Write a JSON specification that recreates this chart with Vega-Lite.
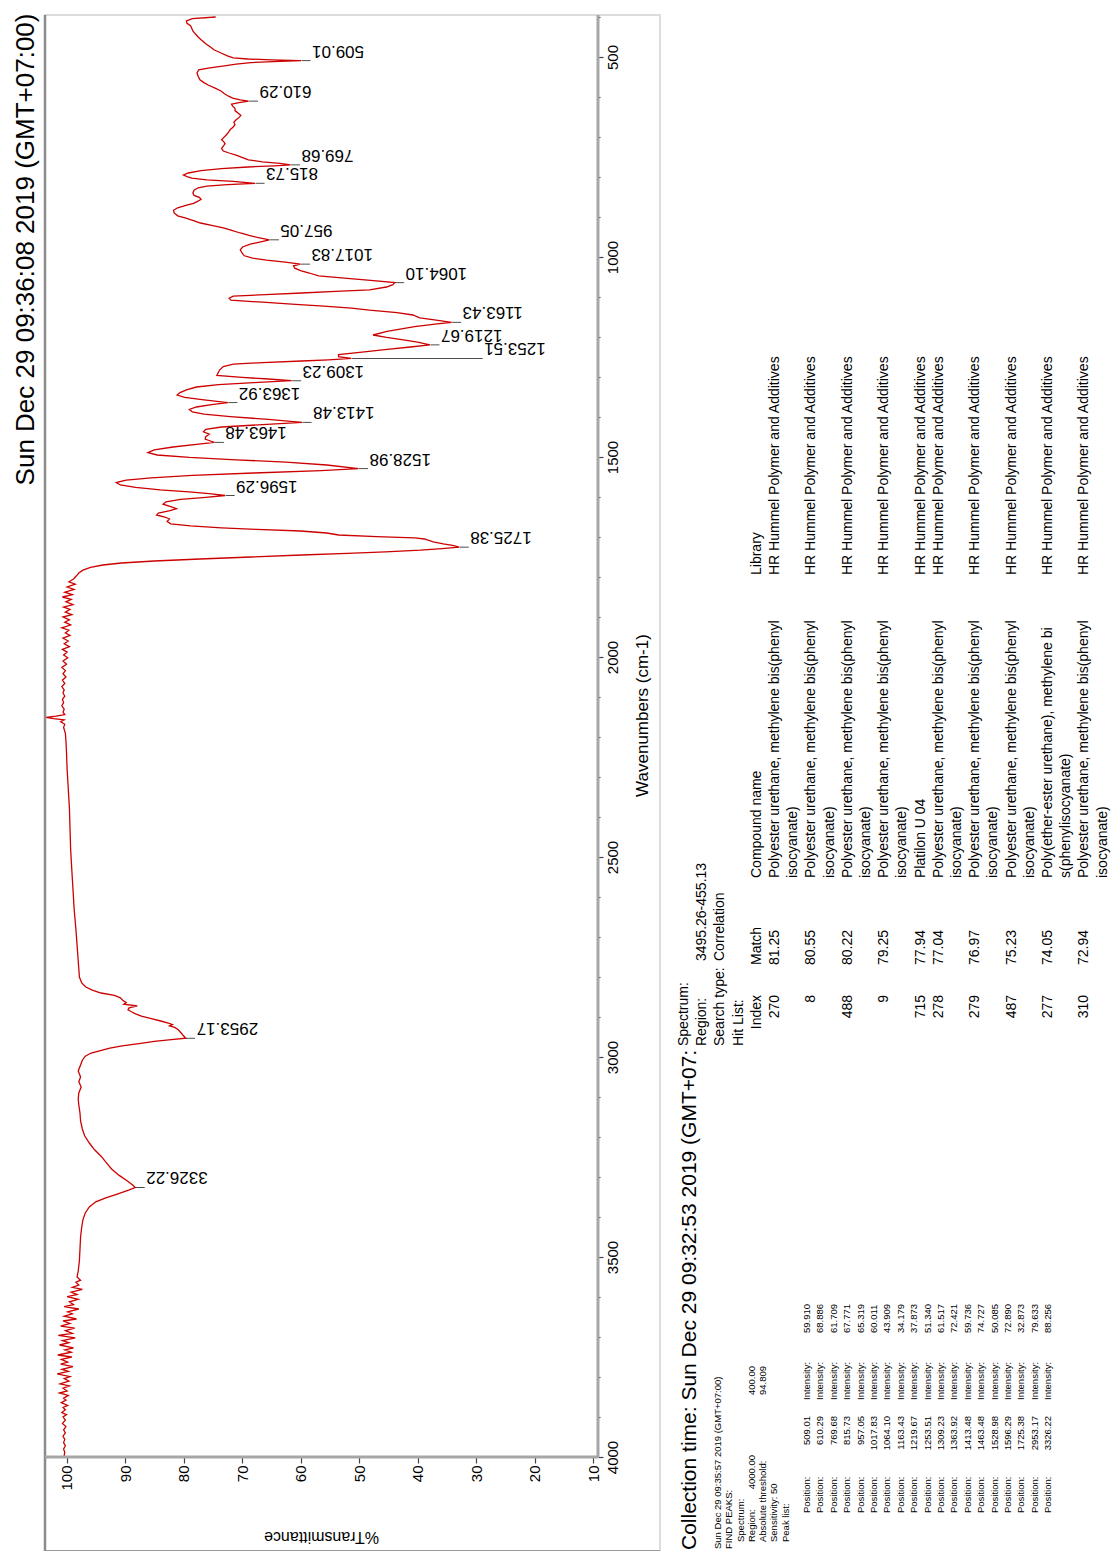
{
"$schema": "https://vega.github.io/schema/vega-lite/v6.json",
"padding": {"left": 12, "top": 12, "right": 0, "bottom": 0},
"background": "white",
"spacing": 0,
"config": {"view": {"stroke": null}, "font": "Liberation Sans", "axis": {"labelOverlap": false}, "axisX": {"labelOverlap": false}},
"datasets": {
"spectrum": [
{"wn":400,"T":74.5},{"wn":404,"T":78.5},{"wn":410,"T":79.5},{"wn":416,"T":79.4},{"wn":422,"T":78.8},{"wn":428,"T":78.6},{"wn":435,"T":78.4},{"wn":442,"T":78.0},{"wn":450,"T":77.5},{"wn":458,"T":76.9},{"wn":467,"T":76.2},{"wn":475,"T":75.4},{"wn":482,"T":74.8},{"wn":490,"T":73.6},{"wn":497,"T":72.5},{"wn":502,"T":71.5},{"wn":505,"T":69},{"wn":507,"T":65},{"wn":509.01,"T":59.91},{"wn":511,"T":63.5},{"wn":514,"T":68.5},{"wn":518,"T":71},{"wn":522,"T":73},{"wn":527,"T":75.5},{"wn":532,"T":77.4},{"wn":540,"T":77.7},{"wn":548,"T":77.5},{"wn":557,"T":77.2},{"wn":564,"T":76.5},{"wn":570,"T":75.8},{"wn":578,"T":74.6},{"wn":585,"T":73.6},{"wn":592,"T":73},{"wn":598,"T":72.3},{"wn":603,"T":71.6},{"wn":607,"T":70.3},{"wn":610.29,"T":68.89},{"wn":614,"T":70.5},{"wn":618,"T":71.8},{"wn":623,"T":71.6},{"wn":628,"T":71.2},{"wn":634,"T":71.2},{"wn":640,"T":70.7},{"wn":646,"T":70.2},{"wn":651,"T":70.5},{"wn":657,"T":71.0},{"wn":663,"T":71.4},{"wn":669,"T":71.2},{"wn":675,"T":71.5},{"wn":681,"T":72},{"wn":688,"T":72.3},{"wn":695,"T":72.7},{"wn":701,"T":73.1},{"wn":707,"T":73.5},{"wn":712,"T":73.1},{"wn":717,"T":72.9},{"wn":723,"T":73.2},{"wn":729,"T":73.5},{"wn":735,"T":73.2},{"wn":740,"T":72.2},{"wn":746,"T":70.9},{"wn":752,"T":69.8},{"wn":757,"T":68.9},{"wn":762,"T":66.5},{"wn":766,"T":63.5},{"wn":769.68,"T":61.71},{"wn":772,"T":64.5},{"wn":775,"T":69},{"wn":779,"T":73.5},{"wn":784,"T":77},{"wn":790,"T":79.2},{"wn":795,"T":80.0},{"wn":799,"T":79.4},{"wn":803,"T":78.6},{"wn":807,"T":76},{"wn":811,"T":71.5},{"wn":815.73,"T":67.77},{"wn":819,"T":72.5},{"wn":823,"T":76},{"wn":827,"T":77.5},{"wn":833,"T":78.2},{"wn":840,"T":78.4},{"wn":846,"T":78.2},{"wn":851,"T":77.3},{"wn":856,"T":77.0},{"wn":861,"T":77.6},{"wn":866,"T":78.3},{"wn":871,"T":79.6},{"wn":877,"T":81},{"wn":883,"T":81.7},{"wn":890,"T":81.6},{"wn":897,"T":81},{"wn":903,"T":79.6},{"wn":909,"T":78.3},{"wn":915,"T":77.1},{"wn":921,"T":75.2},{"wn":927,"T":73.2},{"wn":933,"T":71.9},{"wn":940,"T":70.3},{"wn":946,"T":68.8},{"wn":951,"T":67.4},{"wn":957.05,"T":65.32},{"wn":962,"T":66.8},{"wn":968,"T":68.6},{"wn":975,"T":69.9},{"wn":982,"T":70.3},{"wn":990,"T":70},{"wn":997,"T":69.6},{"wn":1003,"T":68.2},{"wn":1008,"T":65.8},{"wn":1013,"T":62.6},{"wn":1017.83,"T":60.01},{"wn":1022,"T":61.2},{"wn":1028,"T":61},{"wn":1034,"T":60},{"wn":1040,"T":58.5},{"wn":1047,"T":56.9},{"wn":1053,"T":52.5},{"wn":1058,"T":48.5},{"wn":1064.1,"T":43.91},{"wn":1069,"T":44.2},{"wn":1075,"T":45.3},{"wn":1082,"T":48.2},{"wn":1086,"T":54},{"wn":1090,"T":59.8},{"wn":1094,"T":66},{"wn":1098,"T":71.5},{"wn":1103,"T":72.2},{"wn":1108,"T":71.9},{"wn":1113,"T":66.5},{"wn":1118,"T":61.5},{"wn":1123,"T":56},{"wn":1128,"T":51.3},{"wn":1133,"T":48.2},{"wn":1139,"T":43.5},{"wn":1145,"T":40.8},{"wn":1152,"T":39.6},{"wn":1158,"T":36.8},{"wn":1163.43,"T":34.18},{"wn":1168,"T":37},{"wn":1174,"T":40.5},{"wn":1179,"T":42.5},{"wn":1186,"T":45.2},{"wn":1195,"T":47.6},{"wn":1201,"T":45.3},{"wn":1207,"T":42.4},{"wn":1213,"T":40},{"wn":1219.67,"T":37.87},{"wn":1225,"T":41.2},{"wn":1231,"T":45.2},{"wn":1238,"T":49.5},{"wn":1244,"T":53.5},{"wn":1249,"T":53.5},{"wn":1253.51,"T":51.34},{"wn":1257,"T":55.2},{"wn":1260,"T":59.8},{"wn":1264,"T":66.5},{"wn":1268,"T":71.5},{"wn":1274,"T":73.2},{"wn":1282,"T":73.8},{"wn":1290,"T":74.1},{"wn":1296,"T":74.3},{"wn":1301,"T":70},{"wn":1305,"T":65.5},{"wn":1309.23,"T":61.52},{"wn":1314,"T":68},{"wn":1319,"T":74},{"wn":1325,"T":77.8},{"wn":1332,"T":79.5},{"wn":1339,"T":80.6},{"wn":1345,"T":81.1},{"wn":1351,"T":79.8},{"wn":1357,"T":76.5},{"wn":1363.92,"T":72.42},{"wn":1369,"T":75.2},{"wn":1375,"T":77.8},{"wn":1381,"T":79},{"wn":1387,"T":78.5},{"wn":1393,"T":76.5},{"wn":1399,"T":72},{"wn":1406,"T":65.5},{"wn":1413.48,"T":59.74},{"wn":1419,"T":66.5},{"wn":1425,"T":73.5},{"wn":1431,"T":76.2},{"wn":1437,"T":76.6},{"wn":1443,"T":75.6},{"wn":1449,"T":76.2},{"wn":1455,"T":76.3},{"wn":1460,"T":75.4},{"wn":1463.48,"T":74.73},{"wn":1468,"T":77.4},{"wn":1475,"T":81.8},{"wn":1482,"T":85},{"wn":1489,"T":86.1},{"wn":1495,"T":84.5},{"wn":1501,"T":79},{"wn":1507,"T":71},{"wn":1513,"T":62.5},{"wn":1520,"T":55.5},{"wn":1528.98,"T":50.09},{"wn":1534,"T":56.5},{"wn":1540,"T":68},{"wn":1546,"T":78.5},{"wn":1552,"T":85.5},{"wn":1558,"T":89.8},{"wn":1564,"T":91.5},{"wn":1570,"T":90.8},{"wn":1576,"T":88.2},{"wn":1582,"T":84},{"wn":1588,"T":78.5},{"wn":1592,"T":75.2},{"wn":1596.29,"T":72.89},{"wn":1601,"T":76.2},{"wn":1606,"T":80.5},{"wn":1612,"T":83},{"wn":1618,"T":83.5},{"wn":1624,"T":82.2},{"wn":1629,"T":81.2},{"wn":1634,"T":82.3},{"wn":1640,"T":84.3},{"wn":1645,"T":84.6},{"wn":1650,"T":83.2},{"wn":1655,"T":82.4},{"wn":1661,"T":82.8},{"wn":1667,"T":82.2},{"wn":1672,"T":78.8},{"wn":1677,"T":73.5},{"wn":1681,"T":67.5},{"wn":1685,"T":60},{"wn":1690,"T":55.5},{"wn":1695,"T":53.5},{"wn":1699,"T":47},{"wn":1702,"T":40.5},{"wn":1705,"T":38.8},{"wn":1708,"T":38.2},{"wn":1712,"T":37.3},{"wn":1717,"T":35.6},{"wn":1721,"T":34},{"wn":1725.38,"T":32.87},{"wn":1729,"T":35.8},{"wn":1733,"T":39.5},{"wn":1737,"T":45.5},{"wn":1741,"T":52},{"wn":1745,"T":59.8},{"wn":1750,"T":68.5},{"wn":1755,"T":77.2},{"wn":1760,"T":85},{"wn":1765,"T":90.6},{"wn":1770,"T":93.8},{"wn":1776,"T":95.9},{"wn":1783,"T":97.2},{"wn":1790,"T":97.9},{"wn":1797,"T":98.3},
{"wn":1805,"T":98.8},{"wn":1812,"T":99.6},{"wn":1818,"T":98.5},{"wn":1825,"T":99.9},{"wn":1831,"T":98.7},{"wn":1838,"T":100.3},{"wn":1844,"T":99.0},{"wn":1850,"T":100.7},{"wn":1856,"T":99.2},{"wn":1862,"T":100.1},{"wn":1869,"T":98.9},{"wn":1875,"T":100.5},{"wn":1881,"T":99.4},{"wn":1888,"T":100.2},{"wn":1894,"T":99.1},{"wn":1900,"T":100.6},{"wn":1907,"T":99.5},{"wn":1913,"T":100.3},{"wn":1920,"T":99.3},{"wn":1927,"T":100.8},{"wn":1933,"T":99.6},{"wn":1940,"T":100.2},{"wn":1946,"T":99.4},{"wn":1953,"T":100.6},{"wn":1960,"T":99.7},{"wn":1967,"T":100.4},{"wn":1974,"T":99.5},{"wn":1981,"T":100.7},{"wn":1988,"T":99.9},{"wn":1995,"T":100.5},{"wn":2002,"T":99.8},{"wn":2010,"T":100.6},{"wn":2018,"T":100.0},{"wn":2026,"T":100.8},{"wn":2034,"T":100.2},{"wn":2042,"T":100.6},{"wn":2050,"T":100.1},{"wn":2058,"T":100.7},{"wn":2066,"T":100.3},{"wn":2074,"T":100.8},{"wn":2082,"T":100.4},{"wn":2090,"T":100.6},{"wn":2098,"T":100.3},{"wn":2106,"T":100.7},{"wn":2114,"T":100.5},{"wn":2122,"T":100.8},{"wn":2130,"T":100.4},{"wn":2138,"T":100.6},{"wn":2144,"T":100.3},{"wn":2148,"T":101.8},{"wn":2151,"T":103.5},{"wn":2154,"T":102.2},{"wn":2157,"T":100.4},{"wn":2162,"T":101.0},{"wn":2168,"T":100.3},{"wn":2176,"T":100.5},{"wn":2190,"T":100.2},{"wn":2210,"T":100.1},{"wn":2240,"T":100.0},{"wn":2280,"T":99.9},{"wn":2330,"T":99.7},{"wn":2380,"T":99.5},{"wn":2430,"T":99.4},{"wn":2480,"T":99.3},{"wn":2532,"T":99.1},{"wn":2580,"T":98.9},{"wn":2630,"T":98.7},{"wn":2680,"T":98.4},{"wn":2720,"T":98.2},{"wn":2760,"T":98.0},{"wn":2800,"T":97.8},{"wn":2815,"T":97.4},{"wn":2825,"T":96.7},{"wn":2833,"T":95.6},{"wn":2840,"T":94.1},{"wn":2846,"T":91.8},{"wn":2852,"T":90.8},{"wn":2858,"T":90.4},{"wn":2864,"T":89.8},{"wn":2868,"T":90.2},{"wn":2872,"T":87.9},{"wn":2877,"T":89.3},{"wn":2882,"T":89.5},{"wn":2887,"T":88.9},{"wn":2892,"T":88.2},{"wn":2898,"T":87.2},{"wn":2904,"T":85.5},{"wn":2910,"T":83.9},{"wn":2915,"T":82.6},{"wn":2919,"T":81.9},{"wn":2922,"T":82.4},{"wn":2926,"T":81.5},{"wn":2932,"T":80.9},{"wn":2940,"T":80.4},{"wn":2947,"T":80.0},{"wn":2953.17,"T":79.63},{"wn":2957,"T":82.5},{"wn":2961,"T":85},{"wn":2966,"T":87.3},{"wn":2972,"T":90.5},{"wn":2978,"T":92.6},{"wn":2984,"T":94.2},{"wn":2990,"T":95.8},{"wn":2998,"T":96.8},{"wn":3008,"T":97.3},{"wn":3020,"T":97.6},{"wn":3035,"T":98.0},{"wn":3050,"T":97.6},{"wn":3062,"T":97.9},{"wn":3075,"T":97.5},{"wn":3090,"T":97.9},{"wn":3105,"T":98.0},{"wn":3120,"T":97.9},{"wn":3140,"T":97.7},{"wn":3160,"T":97.6},{"wn":3180,"T":97.3},{"wn":3197,"T":96.9},{"wn":3215,"T":96.1},{"wn":3232,"T":95.2},{"wn":3248,"T":94.1},{"wn":3264,"T":93.2},{"wn":3280,"T":92.3},{"wn":3296,"T":91},{"wn":3310,"T":89.6},{"wn":3320,"T":88.7},{"wn":3326.22,"T":88.26},{"wn":3333,"T":89.4},{"wn":3342,"T":91.2},{"wn":3352,"T":93.3},{"wn":3362,"T":95},{"wn":3375,"T":96.1},{"wn":3390,"T":96.8},{"wn":3407,"T":97.2},{"wn":3425,"T":97.4},{"wn":3450,"T":97.6},{"wn":3480,"T":97.7},{"wn":3510,"T":97.8},{"wn":3535,"T":98.0},{"wn":3550,"T":98.2},
{"wn":3558,"T":97.6},{"wn":3563,"T":98.4},{"wn":3570,"T":97.9},{"wn":3576,"T":99.0},{"wn":3581,"T":97.3},{"wn":3588,"T":99.2},{"wn":3594,"T":98.2},{"wn":3599,"T":99.9},{"wn":3606,"T":98.0},{"wn":3612,"T":99.5},{"wn":3619,"T":98.8},{"wn":3624,"T":100.4},{"wn":3630,"T":97.9},{"wn":3637,"T":99.8},{"wn":3642,"T":99.0},{"wn":3648,"T":100.4},{"wn":3655,"T":98.3},{"wn":3660,"T":100.6},{"wn":3666,"T":99.4},{"wn":3673,"T":101.0},{"wn":3678,"T":98.6},{"wn":3684,"T":100.2},{"wn":3691,"T":99.0},{"wn":3696,"T":101.4},{"wn":3702,"T":98.5},{"wn":3709,"T":100.7},{"wn":3714,"T":99.6},{"wn":3720,"T":101.2},{"wn":3727,"T":98.8},{"wn":3732,"T":100.3},{"wn":3738,"T":99.2},{"wn":3745,"T":101.5},{"wn":3750,"T":99.1},{"wn":3756,"T":100.9},{"wn":3763,"T":99.8},{"wn":3768,"T":101.0},{"wn":3774,"T":98.9},{"wn":3781,"T":100.8},{"wn":3786,"T":99.7},{"wn":3792,"T":101.6},{"wn":3799,"T":99.4},{"wn":3804,"T":100.4},{"wn":3810,"T":99.6},{"wn":3817,"T":101.1},{"wn":3822,"T":99.5},{"wn":3828,"T":100.6},{"wn":3835,"T":99.9},{"wn":3840,"T":101.2},{"wn":3846,"T":99.7},{"wn":3853,"T":100.5},{"wn":3858,"T":100.1},{"wn":3864,"T":100.9},{"wn":3871,"T":99.8},{"wn":3876,"T":100.6},{"wn":3882,"T":100.2},{"wn":3889,"T":100.8},{"wn":3894,"T":100.0},{"wn":3900,"T":100.6},{"wn":3908,"T":100.2},{"wn":3916,"T":100.7},{"wn":3924,"T":100.1},{"wn":3932,"T":100.5},{"wn":3940,"T":100.2},{"wn":3948,"T":100.6},{"wn":3956,"T":100.3},{"wn":3964,"T":100.5},{"wn":3972,"T":100.2},{"wn":3980,"T":100.5},{"wn":3988,"T":100.3},{"wn":3996,"T":100.4},{"wn":4000,"T":100.3}
],
"peaks": [
{"n":1,"wn":509.01,"T":59.91,"pos":"509.01","int":"59.910"},
{"n":2,"wn":610.29,"T":68.886,"pos":"610.29","int":"68.886"},
{"n":3,"wn":769.68,"T":61.709,"pos":"769.68","int":"61.709"},
{"n":4,"wn":815.73,"T":67.771,"pos":"815.73","int":"67.771"},
{"n":5,"wn":957.05,"T":65.319,"pos":"957.05","int":"65.319"},
{"n":6,"wn":1017.83,"T":60.011,"pos":"1017.83","int":"60.011"},
{"n":7,"wn":1064.1,"T":43.909,"pos":"1064.10","int":"43.909"},
{"n":8,"wn":1163.43,"T":34.179,"pos":"1163.43","int":"34.179"},
{"n":9,"wn":1219.67,"T":37.873,"pos":"1219.67","int":"37.873"},
{"n":10,"wn":1253.51,"T":51.34,"pos":"1253.51","int":"51.340"},
{"n":11,"wn":1309.23,"T":61.517,"pos":"1309.23","int":"61.517"},
{"n":12,"wn":1363.92,"T":72.421,"pos":"1363.92","int":"72.421"},
{"n":13,"wn":1413.48,"T":59.736,"pos":"1413.48","int":"59.736"},
{"n":14,"wn":1463.48,"T":74.727,"pos":"1463.48","int":"74.727"},
{"n":15,"wn":1528.98,"T":50.085,"pos":"1528.98","int":"50.085"},
{"n":16,"wn":1596.29,"T":72.89,"pos":"1596.29","int":"72.890"},
{"n":17,"wn":1725.38,"T":32.873,"pos":"1725.38","int":"32.873"},
{"n":18,"wn":2953.17,"T":79.633,"pos":"2953.17","int":"79.633"},
{"n":19,"wn":3326.22,"T":88.256,"pos":"3326.22","int":"88.256"}
],
"collection": [{"line":1,"text":"Collection time: Sun Dec 29 09:32:53 2019 (GMT+07:"}],
"reportTop": [{"line":1,"text":"Sun Dec 29 09:35:57 2019 (GMT+07:00)"},{"line":2,"text":"FIND PEAKS:"}],
"reportSub": [{"line":3,"text":"Spectrum:"},{"line":4,"text":"Region:"},{"line":5,"text":"Absolute threshold:"},{"line":6,"text":"Sensitivity: 50"},{"line":7,"text":"Peak list:"}],
"reportParams": [{"line":4,"v1":"4000.00","v2":"400.00"},{"line":5,"v2":"94.809"}],
"hitHead": [{"line":1,"label":"Spectrum:","value":""},{"line":2,"label":"Region:","value":"3495.26-455.13"},{"line":3,"label":"Search type:","value":"Correlation"},{"line":4,"label":"Hit List:","value":""}],
"hitRows": [
{"line":5,"index":"Index","match":"Match","compound":"Compound name","library":"Library"},
{"line":6,"index":"270","match":"81.25","compound":"Polyester urethane, methylene bis(phenyl","library":"HR Hummel Polymer and Additives"},
{"line":8,"index":"8","match":"80.55","compound":"Polyester urethane, methylene bis(phenyl","library":"HR Hummel Polymer and Additives"},
{"line":10,"index":"488","match":"80.22","compound":"Polyester urethane, methylene bis(phenyl","library":"HR Hummel Polymer and Additives"},
{"line":12,"index":"9","match":"79.25","compound":"Polyester urethane, methylene bis(phenyl","library":"HR Hummel Polymer and Additives"},
{"line":14,"index":"715","match":"77.94","compound":"Platilon U 04","library":"HR Hummel Polymer and Additives"},
{"line":15,"index":"278","match":"77.04","compound":"Polyester urethane, methylene bis(phenyl","library":"HR Hummel Polymer and Additives"},
{"line":17,"index":"279","match":"76.97","compound":"Polyester urethane, methylene bis(phenyl","library":"HR Hummel Polymer and Additives"},
{"line":19,"index":"487","match":"75.23","compound":"Polyester urethane, methylene bis(phenyl","library":"HR Hummel Polymer and Additives"},
{"line":21,"index":"277","match":"74.05","compound":"Poly(ether-ester urethane), methylene bi","library":"HR Hummel Polymer and Additives"},
{"line":23,"index":"310","match":"72.94","compound":"Polyester urethane, methylene bis(phenyl","library":"HR Hummel Polymer and Additives"}
],
"hitCont": [{"line":7,"compound":"isocyanate)"},{"line":9,"compound":"isocyanate)"},{"line":11,"compound":"isocyanate)"},{"line":13,"compound":"isocyanate)"},{"line":16,"compound":"isocyanate)"},{"line":18,"compound":"isocyanate)"},{"line":20,"compound":"isocyanate)"},{"line":22,"compound":"s(phenylisocyanate)"},{"line":24,"compound":"isocyanate)"}]
},
"hconcat": [
{
"width": 615, "height": 1536,
"view": {"stroke": "#dcdcdc", "strokeWidth": 2},
"title": {"text": "Sun Dec 29 09:36:08 2019 (GMT+07:00)", "orient": "left", "anchor": "end", "fontSize": 26, "font": "Liberation Sans", "fontWeight": "normal", "color": "#000000", "offset": 4},
"layer": [
{"data": {"name": "spectrum"}, "mark": {"type": "line", "color": "#cc0000", "strokeWidth": 1.3},
 "encoding": {
  "x": {"field": "T", "type": "quantitative", "title": "%Transmittance",
   "scale": {"domain": [-1.45, 103.68], "reverse": true, "nice": false, "zero": false},
   "axis": {"orient": "bottom", "offset": -94, "values": [10,20,30,40,50,60,70,80,90,100],
    "labelAngle": 270, "labelAlign": "right", "labelBaseline": "middle", "labelFontSize": 15,
    "labelFont": "Liberation Sans", "labelColor": "#000000", "labelPadding": 2, "labelOverlap": false, "labelFlush": false, "labelSeparation": 0,
    "tickSize": 6, "tickColor": "#444444", "tickWidth": 1.2,
    "domain": false, "grid": false,
    "titleAngle": 180, "titleFontSize": 16, "titleFont": "Liberation Sans", "titleFontWeight": "normal", "titleColor": "#000000", "titleX": 276, "titleY": 79, "titleAlign": "center", "titleBaseline": "middle"}},
  "y": {"field": "wn", "type": "quantitative", "title": "Wavenumbers (cm-1)",
   "scale": {"domain": [395, 4235], "reverse": true, "nice": false, "zero": false},
   "axis": {"orient": "right", "offset": -62, "values": [400,500,600,700,800,900,1000,1100,1200,1300,1400,1500,1600,1700,1800,1900,2000,2100,2200,2300,2400,2500,2600,2700,2800,2900,3000,3100,3200,3300,3400,3500,3600,3700,3800,3900,4000],
    "format": "d", "labelExpr": "datum.value % 500 === 0 ? datum.label : ''", "labelAngle": 270, "labelAlign": "center", "labelBaseline": "top", "labelFontSize": 15, "labelFont": "Liberation Sans", "labelColor": "#000000", "labelPadding": 2, "labelOverlap": false, "labelFlush": false,
    "tickSize": {"condition": {"test": "datum.value % 500 === 0", "value": 5}, "value": 2}, "tickColor": "#444444", "tickWidth": 1.2,
    "domain": false, "grid": false,
    "titleAngle": 270, "titleFontSize": 17, "titleFont": "Liberation Sans", "titleFontWeight": "normal", "titleColor": "#000000", "titleX": 36, "titleY": 700, "titleAlign": "center", "titleBaseline": "top"}},
  "order": {"field": "wn", "type": "quantitative"}
 }},
{"data": {"values": [{}]}, "mark": {"type": "rule", "color": "#8c8c8c", "strokeWidth": 2.5},
 "encoding": {"x": {"datum": 103.68, "type": "quantitative"}}},
{"data": {"values": [{}]}, "mark": {"type": "rule", "color": "#9a9a9a", "strokeWidth": 2},
 "encoding": {"y": {"datum": 4235, "type": "quantitative"}}},
{"data": {"values": [{}]}, "mark": {"type": "rule", "color": "#a6a6a6", "strokeWidth": 3},
 "encoding": {"x": {"datum": 9.15, "type": "quantitative"}, "y": {"datum": 395, "type": "quantitative"}, "y2": {"datum": 4000}}},
{"data": {"values": [{}]}, "mark": {"type": "rule", "color": "#a6a6a6", "strokeWidth": 3},
 "encoding": {"y": {"datum": 4000, "type": "quantitative"}, "x": {"datum": 103.68, "type": "quantitative"}, "x2": {"datum": 9.15}}},
{"data": {"name": "peaks"}, "transform": [{"filter": "datum.wn !== 1253.51"}],
 "mark": {"type": "tick", "orient": "horizontal", "size": 9, "thickness": 1, "xOffset": 5, "color": "#000000"},
 "encoding": {"x": {"field": "T", "type": "quantitative", "title": "%Transmittance"}, "y": {"field": "wn", "type": "quantitative", "title": "Wavenumbers (cm-1)"}}},
{"data": {"name": "peaks"}, "transform": [{"filter": "datum.wn === 1253.51"}],
 "mark": {"type": "tick", "orient": "horizontal", "size": 131, "thickness": 1, "xOffset": 66, "color": "#000000"},
 "encoding": {"x": {"field": "T", "type": "quantitative", "title": "%Transmittance"}, "y": {"field": "wn", "type": "quantitative", "title": "Wavenumbers (cm-1)"}}},
{"data": {"name": "peaks"}, "transform": [{"filter": "datum.wn !== 1253.51"}],
 "mark": {"type": "text", "angle": 180, "align": "right", "baseline": "top", "dx": -11, "dy": 2, "fontSize": 17, "font": "Liberation Sans", "color": "#000000"},
 "encoding": {"x": {"field": "T", "type": "quantitative", "title": "%Transmittance"}, "y": {"field": "wn", "type": "quantitative", "title": "Wavenumbers (cm-1)"}, "text": {"field": "pos"}}},
{"data": {"name": "peaks"}, "transform": [{"filter": "datum.wn === 1253.51"}],
 "mark": {"type": "text", "angle": 180, "align": "right", "baseline": "top", "dx": -133, "dy": 2, "fontSize": 17, "font": "Liberation Sans", "color": "#000000"},
 "encoding": {"x": {"field": "T", "type": "quantitative", "title": "%Transmittance"}, "y": {"field": "wn", "type": "quantitative", "title": "Wavenumbers (cm-1)"}, "text": {"field": "pos"}}}
]
},
{
"width": 456, "height": 1536,
"resolve": {"scale": {"x": "independent"}},
"layer": [
{"data": {"name": "collection"}, "mark": {"type": "text", "angle": 270, "align": "left", "baseline": "alphabetic", "fontSize": 21, "font": "Liberation Sans", "color": "#000000"},
 "encoding": {"x": {"field": "line", "type": "quantitative", "scale": {"domain": [-0.7, 22.1], "nice": false, "zero": false}, "axis": null},
  "y": {"datum": 1547, "type": "quantitative", "scale": {"domain": [12, 1548], "reverse": true, "nice": false, "zero": false}, "axis": null},
  "text": {"field": "text"}}},
{"data": {"name": "reportTop"}, "mark": {"type": "text", "angle": 270, "align": "left", "baseline": "middle", "fontSize": 9.5, "font": "Liberation Sans", "color": "#000000"},
 "encoding": {"x": {"field": "line", "type": "quantitative", "scale": {"domain": [-3.956, 36.4], "nice": false, "zero": false}, "axis": null},
  "y": {"datum": 1546, "type": "quantitative", "axis": null}, "text": {"field": "text"}}},
{"data": {"name": "reportSub"}, "mark": {"type": "text", "angle": 270, "align": "left", "baseline": "middle", "fontSize": 9.5, "font": "Liberation Sans", "color": "#000000"},
 "encoding": {"x": {"field": "line", "type": "quantitative", "scale": {"domain": [-3.956, 36.4], "nice": false, "zero": false}, "axis": null},
  "y": {"datum": 1539, "type": "quantitative", "axis": null}, "text": {"field": "text"}}},
{"data": {"name": "reportParams"}, "transform": [{"filter": "isValid(datum.v1)"}], "mark": {"type": "text", "angle": 270, "align": "right", "baseline": "middle", "fontSize": 9.5, "font": "Liberation Sans", "color": "#000000"},
 "encoding": {"x": {"field": "line", "type": "quantitative", "scale": {"domain": [-3.956, 36.4], "nice": false, "zero": false}, "axis": null},
  "y": {"datum": 1452, "type": "quantitative", "axis": null}, "text": {"field": "v1"}}},
{"data": {"name": "reportParams"}, "mark": {"type": "text", "angle": 270, "align": "right", "baseline": "middle", "fontSize": 9.5, "font": "Liberation Sans", "color": "#000000"},
 "encoding": {"x": {"field": "line", "type": "quantitative", "scale": {"domain": [-3.956, 36.4], "nice": false, "zero": false}, "axis": null},
  "y": {"datum": 1363, "type": "quantitative", "axis": null}, "text": {"field": "v2"}}},
{"data": {"name": "peaks"}, "mark": {"type": "text", "angle": 270, "align": "left", "baseline": "middle", "fontSize": 9.5, "font": "Liberation Sans", "color": "#000000", "text": "Position:"},
 "encoding": {"x": {"field": "n", "type": "quantitative", "scale": {"domain": [-9.821, 24.209], "nice": false, "zero": false}, "axis": null},
  "y": {"datum": 1510, "type": "quantitative", "axis": null}}},
{"data": {"name": "peaks"}, "mark": {"type": "text", "angle": 270, "align": "right", "baseline": "middle", "fontSize": 9.5, "font": "Liberation Sans", "color": "#000000"},
 "encoding": {"x": {"field": "n", "type": "quantitative", "scale": {"domain": [-9.821, 24.209], "nice": false, "zero": false}, "axis": null},
  "y": {"datum": 1413, "type": "quantitative", "axis": null}, "text": {"field": "pos"}}},
{"data": {"name": "peaks"}, "mark": {"type": "text", "angle": 270, "align": "left", "baseline": "middle", "fontSize": 9.5, "font": "Liberation Sans", "color": "#000000", "text": "Intensity:"},
 "encoding": {"x": {"field": "n", "type": "quantitative", "scale": {"domain": [-9.821, 24.209], "nice": false, "zero": false}, "axis": null},
  "y": {"datum": 1397, "type": "quantitative", "axis": null}}},
{"data": {"name": "peaks"}, "mark": {"type": "text", "angle": 270, "align": "left", "baseline": "middle", "fontSize": 9.5, "font": "Liberation Sans", "color": "#000000"},
 "encoding": {"x": {"field": "n", "type": "quantitative", "scale": {"domain": [-9.821, 24.209], "nice": false, "zero": false}, "axis": null},
  "y": {"datum": 1330, "type": "quantitative", "axis": null}, "text": {"field": "int"}}},
{"data": {"name": "hitHead"}, "mark": {"type": "text", "angle": 270, "align": "left", "baseline": "middle", "fontSize": 14, "font": "Liberation Sans", "color": "#000000"},
 "encoding": {"x": {"field": "line", "type": "quantitative", "scale": {"domain": [-0.2088, 24.846], "nice": false, "zero": false}, "axis": null},
  "y": {"datum": 1043, "type": "quantitative", "axis": null}, "text": {"field": "label"}}},
{"data": {"name": "hitHead"}, "mark": {"type": "text", "angle": 270, "align": "left", "baseline": "middle", "fontSize": 14, "font": "Liberation Sans", "color": "#000000"},
 "encoding": {"x": {"field": "line", "type": "quantitative", "scale": {"domain": [-0.2088, 24.846], "nice": false, "zero": false}, "axis": null},
  "y": {"datum": 958, "type": "quantitative", "axis": null}, "text": {"field": "value"}}},
{"data": {"name": "hitRows"}, "mark": {"type": "text", "angle": 270, "align": "right", "baseline": "middle", "fontSize": 14, "font": "Liberation Sans", "color": "#000000"},
 "encoding": {"x": {"field": "line", "type": "quantitative", "scale": {"domain": [-0.2088, 24.846], "nice": false, "zero": false}, "axis": null},
  "y": {"datum": 992, "type": "quantitative", "axis": null}, "text": {"field": "index"}}},
{"data": {"name": "hitRows"}, "mark": {"type": "text", "angle": 270, "align": "left", "baseline": "middle", "fontSize": 14, "font": "Liberation Sans", "color": "#000000"},
 "encoding": {"x": {"field": "line", "type": "quantitative", "scale": {"domain": [-0.2088, 24.846], "nice": false, "zero": false}, "axis": null},
  "y": {"datum": 962, "type": "quantitative", "axis": null}, "text": {"field": "match"}}},
{"data": {"name": "hitRows"}, "mark": {"type": "text", "angle": 270, "align": "left", "baseline": "middle", "fontSize": 14, "font": "Liberation Sans", "color": "#000000"},
 "encoding": {"x": {"field": "line", "type": "quantitative", "scale": {"domain": [-0.2088, 24.846], "nice": false, "zero": false}, "axis": null},
  "y": {"datum": 875, "type": "quantitative", "axis": null}, "text": {"field": "compound"}}},
{"data": {"name": "hitCont"}, "mark": {"type": "text", "angle": 270, "align": "left", "baseline": "middle", "fontSize": 14, "font": "Liberation Sans", "color": "#000000"},
 "encoding": {"x": {"field": "line", "type": "quantitative", "scale": {"domain": [-0.2088, 24.846], "nice": false, "zero": false}, "axis": null},
  "y": {"datum": 875, "type": "quantitative", "axis": null}, "text": {"field": "compound"}}},
{"data": {"name": "hitRows"}, "mark": {"type": "text", "angle": 270, "align": "left", "baseline": "middle", "fontSize": 14, "font": "Liberation Sans", "color": "#000000"},
 "encoding": {"x": {"field": "line", "type": "quantitative", "scale": {"domain": [-0.2088, 24.846], "nice": false, "zero": false}, "axis": null},
  "y": {"datum": 572, "type": "quantitative", "axis": null}, "text": {"field": "library"}}}
]
}
]
}
